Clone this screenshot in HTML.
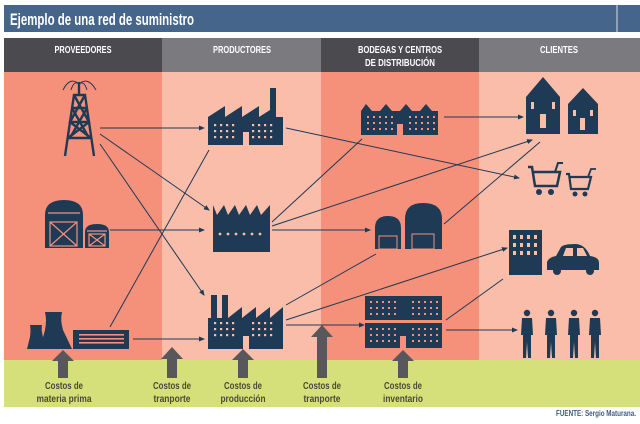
<!DOCTYPE html>
<html><head><meta charset="utf-8"><style>
html,body{margin:0;padding:0;background:#fff;}
svg{display:block;}
text{font-family:"Liberation Sans",sans-serif;}
</style></head><body>
<svg width="640" height="424" viewBox="0 0 640 424" xmlns="http://www.w3.org/2000/svg">
<defs>
<marker id="ah" markerWidth="6" markerHeight="6" refX="5" refY="3" orient="auto" markerUnits="userSpaceOnUse">
<path d="M0,0.5 L6,3 L0,5.5 z" fill="#1e3a55"/></marker>
</defs>
<rect width="640" height="424" fill="#fff"/>
<rect x="4" y="5" width="636" height="27" fill="#46658a"/>
<line x1="617" y1="5" x2="617" y2="32" stroke="#fff" stroke-width="0.8"/>
<text x="10" y="25" font-size="17" font-weight="bold" fill="#fff" textLength="184" lengthAdjust="spacingAndGlyphs">Ejemplo de una red de suministro</text>
<rect x="4" y="38" width="158" height="34" fill="#4b4a4f"/>
<rect x="162" y="38" width="159" height="34" fill="#7b7a7f"/>
<rect x="321" y="38" width="158" height="34" fill="#4b4a4f"/>
<rect x="479" y="38" width="161" height="34" fill="#7b7a7f"/>
<g fill="#fff" font-size="10" font-weight="bold" text-anchor="middle">
<text x="83" y="53" textLength="57" lengthAdjust="spacingAndGlyphs">PROVEEDORES</text>
<text x="242" y="53" textLength="58" lengthAdjust="spacingAndGlyphs">PRODUCTORES</text>
<text x="400" y="53" textLength="84" lengthAdjust="spacingAndGlyphs">BODEGAS Y CENTROS</text>
<text x="400" y="66" textLength="70" lengthAdjust="spacingAndGlyphs">DE DISTRIBUCIÓN</text>
<text x="559" y="53" textLength="38" lengthAdjust="spacingAndGlyphs">CLIENTES</text>
</g>
<rect x="4" y="72" width="158" height="288" fill="#f5907a"/>
<rect x="162" y="72" width="159" height="288" fill="#f9bdaa"/>
<rect x="321" y="72" width="158" height="288" fill="#f5907a"/>
<rect x="479" y="72" width="161" height="288" fill="#f9bdaa"/>
<rect x="4" y="360" width="636" height="47" fill="#d6e07a"/>

<g stroke="#1e3a55" stroke-width="1" fill="none" marker-end="url(#ah)">
<line x1="100" y1="128" x2="204" y2="128"/>
<line x1="100" y1="134" x2="209" y2="210"/>
<line x1="100" y1="144" x2="204" y2="295"/>
<line x1="110" y1="230" x2="204" y2="230"/>
<line x1="110" y1="327" x2="209" y2="150" marker-end="none"/>
<line x1="133" y1="339" x2="204" y2="339"/>
<line x1="286" y1="128" x2="519" y2="178"/>
<line x1="272" y1="222" x2="362" y2="139" marker-end="none"/>
<line x1="272" y1="226" x2="532" y2="140"/>
<line x1="272" y1="230" x2="370" y2="230"/>
<line x1="286" y1="305" x2="376" y2="254" marker-end="none"/>
<line x1="286" y1="320" x2="507" y2="248"/>
<line x1="286" y1="325" x2="364" y2="325"/>
<line x1="444" y1="117" x2="523" y2="117"/>
<line x1="444" y1="224" x2="540" y2="142" marker-end="none"/>
<line x1="446" y1="320" x2="503" y2="279" marker-end="none"/>
<line x1="446" y1="330" x2="517" y2="330"/>
</g>

<g fill="#1e3a55">
<g stroke="#1e3a55" stroke-width="2.4" fill="none">
<path d="M65,156 L74,95 L85,95 L94,156"/>
<path d="M72,108 L87,108 M70,122 L89,122 M68,138 L91,138"/>
<path d="M74,95 L89,122 L68,138 M85,95 L70,122 L91,138 M72,108 L89,138 M87,108 L70,138"/>
<path d="M79,95 L79,82" />
</g>
<g stroke="#1e3a55" stroke-width="1" fill="none">
<path d="M79,84 Q70,76 63,90 M79,84 Q88,76 96,90 M79,84 Q74,80 71,90 M79,84 Q84,80 87,90"/>
</g>
<path d="M45,248 L45,215 Q45,200 64,200 Q83,200 83,215 L83,248 z"/>
<path d="M85,248 L85,232 Q85,224 97,224 Q109,224 109,232 L109,248 z"/>
<g stroke="#f5907a" stroke-width="1.2" fill="none">
<rect x="50" y="222" width="27" height="24"/><path d="M50,222 L77,246 M77,222 L50,246"/>
<rect x="89" y="234" width="16" height="12"/><path d="M89,234 L105,246 M105,234 L89,246"/>
<path d="M48,213 L80,213"/><path d="M87,231 L107,231"/>
</g>
<path d="M27,349 L30,337 Q31,330 30,325 L42,325 Q41,330 43,337 L45,349 z"/>
<path d="M40,349 L45,330 Q47,320 45,312 L62,312 Q60,320 63,330 L72,349 z"/>
<rect x="73" y="330" width="56" height="19"/>
<g fill="#f5907a">
<rect x="79" y="334" width="45" height="1.6"/><rect x="79" y="338" width="45" height="1.6"/><rect x="79" y="342" width="45" height="1.6"/>
</g>
</g>

<g fill="#1e3a55">
<path d="M208,145 L208,117 L225,106 L225,117 L242,106 L242,117 L259,106 L259,117 L270,110 L270,88 L276,88 L276,117 L283,117 L283,145 z"/>
<path d="M213,252 L213,205 L217,215 L224,205 L228,215 L235,205 L239,215 L246,205 L250,215 L257,205 L261,215 L270,205 L270,252 z"/>
<path d="M208,349 L208,318 L211,318 L211,295 L217,295 L217,318 L222,318 L222,295 L228,295 L228,318 L242,307 L242,318 L256,307 L256,318 L270,307 L270,318 L283,307 L283,349 z"/>
<path d="M361,135 L361,111 L366,104 L372,111 L380,111 L386,104 L392,111 L400,111 L406,104 L412,111 L420,111 L426,104 L432,111 L438,111 L438,135 z"/>
<path d="M375,249 L375,228 Q375,216 388,216 Q401,216 401,228 L401,249 z"/>
<path d="M405,249 L405,219 Q405,203 423,203 Q442,203 442,219 L442,249 z"/>
<rect x="365" y="296" width="77" height="24"/>
<rect x="365" y="323" width="77" height="25"/>
<path d="M526,134 L526,97 L543,77 L560,97 L560,134 z"/>
<path d="M568,134 L568,104 L583,88 L598,104 L598,134 z"/>
<path d="M528,167 L532,167 L535,186 L557,186 L560,172 L534,172" stroke="#1e3a55" stroke-width="2.5" fill="none"/>
<path d="M555,172 L558,163 L563,163" stroke="#1e3a55" stroke-width="2" fill="none"/>
<circle cx="539" cy="192" r="3"/><circle cx="551" cy="192" r="3"/>
<path d="M566,174 L569,174 L571,189 L588,189 L591,177 L570,177" stroke="#1e3a55" stroke-width="2.2" fill="none"/>
<path d="M588,177 L591,169 L596,169" stroke="#1e3a55" stroke-width="1.8" fill="none"/>
<circle cx="575" cy="194" r="2.5"/><circle cx="585" cy="194" r="2.5"/>
<rect x="509" y="230" width="33" height="45"/>
<path d="M547,270 L547,262 Q549,257 556,256 L561,247 Q564,244 575,244 Q585,244 590,256 Q599,257 599,263 L599,270 z"/>
<circle cx="557" cy="271" r="4"/><circle cx="590" cy="271" r="4"/>
<g id="person"><circle cx="527" cy="313" r="3.2"/><path d="M522,318 L532,318 L533,335 L531,335 L531,358 L528,358 L527,342 L526,358 L523,358 L523,335 L521,335 z"/></g>
<use href="#person" x="24"/><use href="#person" x="47"/><use href="#person" x="68"/>
</g>
<g fill="#f9bdaa">
<g id="fw"><rect x="214" y="124" width="2.2" height="2.2"/><rect x="220" y="124" width="2.2" height="2.2"/><rect x="226" y="124" width="2.2" height="2.2"/><rect x="232" y="124" width="2.2" height="2.2"/><rect x="252" y="124" width="2.2" height="2.2"/><rect x="258" y="124" width="2.2" height="2.2"/><rect x="264" y="124" width="2.2" height="2.2"/><rect x="270" y="124" width="2.2" height="2.2"/></g>
<use href="#fw" y="6"/><use href="#fw" y="12"/>
<rect x="243" y="132" width="6" height="13"/>
<use href="#fw" y="198"/><use href="#fw" y="204"/><use href="#fw" y="210"/>
<rect x="243" y="336" width="6" height="13"/>
<circle cx="220" cy="234" r="1.4"/><circle cx="228" cy="234" r="1.4"/><circle cx="236" cy="234" r="1.4"/><circle cx="244" cy="234" r="1.4"/><circle cx="252" cy="234" r="1.4"/><circle cx="260" cy="234" r="1.4"/>
</g>
<g fill="#f5907a">
<g id="ww"><rect x="367" y="116" width="2" height="2"/><rect x="373" y="116" width="2" height="2"/><rect x="379" y="116" width="2" height="2"/><rect x="385" y="116" width="2" height="2"/><rect x="391" y="116" width="2" height="2"/><rect x="409" y="116" width="2" height="2"/><rect x="415" y="116" width="2" height="2"/><rect x="421" y="116" width="2" height="2"/><rect x="427" y="116" width="2" height="2"/><rect x="433" y="116" width="2" height="2"/></g>
<use href="#ww" y="6"/><use href="#ww" y="12"/>
<rect x="397" y="124" width="6" height="11"/>
<use href="#ww" x="3" y="185"/><use href="#ww" x="3" y="191"/><use href="#ww" x="3" y="197"/>
<use href="#ww" x="3" y="212"/><use href="#ww" x="3" y="218"/><use href="#ww" x="3" y="224"/>
<rect x="400" y="336" width="6" height="12"/>
<rect x="379" y="236" width="18" height="13" fill="none" stroke="#f5907a"/>
<rect x="412" y="234" width="22" height="15" fill="none" stroke="#f5907a"/>
</g>
<g fill="#f9bdaa">
<rect x="513" y="235" width="3" height="4"/><rect x="520" y="235" width="3" height="4"/><rect x="527" y="235" width="3" height="4"/><rect x="534" y="235" width="3" height="4"/>
<rect x="513" y="243" width="3" height="4"/><rect x="520" y="243" width="3" height="4"/><rect x="527" y="243" width="3" height="4"/><rect x="534" y="243" width="3" height="4"/>
<rect x="513" y="251" width="3" height="4"/><rect x="520" y="251" width="3" height="4"/><rect x="527" y="251" width="3" height="4"/><rect x="534" y="251" width="3" height="4"/>
<path d="M563,256 L566,248 L573,248 L573,256 z M577,256 L577,248 L583,248 L587,256 z"/>
<rect x="531" y="102" width="3" height="7"/><rect x="552" y="102" width="3" height="7"/><rect x="540" y="114" width="6" height="14"/>
<rect x="573" y="110" width="3" height="6"/><rect x="590" y="110" width="3" height="6"/><rect x="580" y="118" width="5" height="12"/>
</g>

<g fill="#58575c">
<path d="M58,378 L58,361 L52,361 L63,350 L74,361 L68,361 L68,378 z"/>
<path d="M167,378 L167,359 L161,359 L172,347 L183,359 L177,359 L177,378 z"/>
<path d="M238,378 L238,360 L232,360 L243,349 L254,360 L248,360 L248,378 z"/>
<path d="M317,378 L317,337 L311,337 L322,325 L333,337 L327,337 L327,378 z"/>
<path d="M398,378 L398,361 L392,361 L403,350 L414,361 L408,361 L408,378 z"/>
</g>
<g fill="#4a4a35" font-size="10.5" font-weight="bold" text-anchor="middle">
<text x="64" y="389" textLength="38" lengthAdjust="spacingAndGlyphs">Costos de</text>
<text x="64" y="402" textLength="55" lengthAdjust="spacingAndGlyphs">materia prima</text>
<text x="172" y="389" textLength="38" lengthAdjust="spacingAndGlyphs">Costos de</text>
<text x="172" y="402" textLength="37" lengthAdjust="spacingAndGlyphs">tranporte</text>
<text x="243" y="389" textLength="38" lengthAdjust="spacingAndGlyphs">Costos de</text>
<text x="243" y="402" textLength="45" lengthAdjust="spacingAndGlyphs">producción</text>
<text x="322" y="389" textLength="38" lengthAdjust="spacingAndGlyphs">Costos de</text>
<text x="322" y="402" textLength="37" lengthAdjust="spacingAndGlyphs">tranporte</text>
<text x="403" y="389" textLength="38" lengthAdjust="spacingAndGlyphs">Costos de</text>
<text x="403" y="402" textLength="40" lengthAdjust="spacingAndGlyphs">inventario</text>
</g>
<text x="636" y="416" font-size="8" font-weight="bold" fill="#3b5b82" text-anchor="end" textLength="80" lengthAdjust="spacingAndGlyphs">FUENTE: Sergio Maturana.</text>
</svg>
</body></html>
